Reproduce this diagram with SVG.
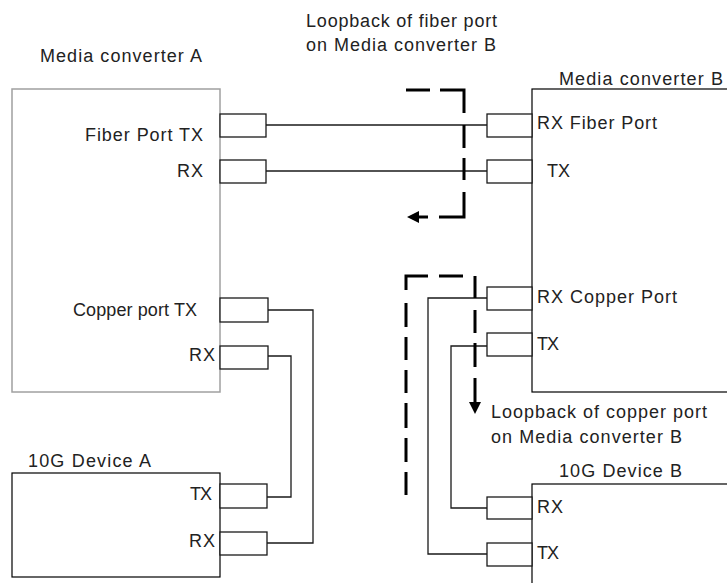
<svg xmlns="http://www.w3.org/2000/svg" width="727" height="583" viewBox="0 0 727 583">
<style>
  text { font-family: "Liberation Sans", Arial, sans-serif; font-size: 18px; fill: #222222; }
  .box { fill: #ffffff; stroke: #000000; stroke-width: 1.2; }
  .gbox { fill: #ffffff; stroke: #a0a0a0; stroke-width: 1.5; }
  .port { fill: #ffffff; stroke: #1a1a1a; stroke-width: 1.3; }
  .wire { fill: none; stroke: #1a1a1a; stroke-width: 1.3; }
  .dash { fill: none; stroke: #000000; stroke-width: 3; stroke-linecap: butt; stroke-linejoin: miter; }
</style>
<defs>
  <marker id="arrow" markerUnits="userSpaceOnUse" markerWidth="13" markerHeight="13" refX="0" refY="6" orient="auto" overflow="visible">
    <path d="M0,0 L12,6 L0,12 Z" fill="#000000"/>
  </marker>
</defs>
<rect width="727" height="583" fill="#ffffff"/>

<g id="media-converter-a">
  <rect class="gbox" x="12" y="89" width="208" height="303"/>
  <text x="40" y="62" textLength="162" lengthAdjust="spacing">Media converter A</text>
  <rect class="port" x="220" y="114" width="46" height="23"/>
  <rect class="port" x="220" y="160" width="46" height="23"/>
  <rect class="port" x="220" y="298" width="48" height="24"/>
  <rect class="port" x="220" y="346" width="48" height="23"/>
  <text x="85" y="141" textLength="118" lengthAdjust="spacing">Fiber Port TX</text>
  <text x="177" y="177" textLength="26" lengthAdjust="spacing">RX</text>
  <text x="73" y="316" textLength="124" lengthAdjust="spacing">Copper port TX</text>
  <text x="189" y="361" textLength="26" lengthAdjust="spacing">RX</text>
</g>

<g id="media-converter-b">
  <rect class="box" x="532" y="89" width="210" height="303"/>
  <text x="559" y="85" textLength="164" lengthAdjust="spacing">Media converter B</text>
  <rect class="port" x="487" y="114" width="45" height="23"/>
  <rect class="port" x="487" y="160" width="45" height="23"/>
  <rect class="port" x="487" y="287" width="45" height="23"/>
  <rect class="port" x="487" y="333" width="45" height="23"/>
  <text x="537" y="129" textLength="120" lengthAdjust="spacing">RX Fiber Port</text>
  <text x="547" y="177" textLength="23" lengthAdjust="spacing">TX</text>
  <text x="537" y="303" textLength="140" lengthAdjust="spacing">RX Copper Port</text>
  <text x="537" y="350" textLength="22" lengthAdjust="spacing">TX</text>
</g>

<g id="device-a">
  <rect class="box" x="12" y="473" width="208" height="104"/>
  <text x="28" y="467" textLength="123" lengthAdjust="spacing">10G Device A</text>
  <rect class="port" x="220" y="484" width="47" height="24"/>
  <rect class="port" x="220" y="532" width="47" height="23"/>
  <text x="190" y="500" textLength="22" lengthAdjust="spacing">TX</text>
  <text x="189" y="547" textLength="26" lengthAdjust="spacing">RX</text>
</g>

<g id="device-b">
  <rect class="box" x="532" y="484" width="210" height="120"/>
  <text x="559" y="477" textLength="123" lengthAdjust="spacing">10G Device B</text>
  <rect class="port" x="487" y="497" width="45" height="22"/>
  <rect class="port" x="487" y="543" width="45" height="23"/>
  <text x="537" y="513" textLength="26" lengthAdjust="spacing">RX</text>
  <text x="537" y="559" textLength="22" lengthAdjust="spacing">TX</text>
</g>

<g id="connectors">
  <path class="wire" d="M266,125 H487"/>
  <path class="wire" d="M266,171 H487"/>
  <path class="wire" d="M268,310 H313 V543 H267"/>
  <path class="wire" d="M268,356 H291 V497 H267"/>
  <path class="wire" d="M487,298 H428 V554 H487"/>
  <path class="wire" d="M487,346 H451 V508 H487"/>
</g>

<g id="loopback-fiber">
  <path class="dash" d="M406,90 H430 M440,90 H464 V113 M464,125 V148 M464,158 V180 M464,192 V217 H439"/>
  <path class="dash" d="M428,217 H419" marker-end="url(#arrow)"/>
  <text x="306" y="27" textLength="191" lengthAdjust="spacing">Loopback of fiber port</text>
  <text x="306" y="51" textLength="190" lengthAdjust="spacing">on Media converter B</text>
</g>

<g id="loopback-copper">
  <path class="dash" d="M406,495 V472 M406,462 V438 M406,428 V403 M406,393 V370 M406,360 V337 M406,327 V303 M406,290 V276 H428 M439,276 H463 M475,276 V298 M475,310 V333 M475,343 V367"/>
  <path class="dash" d="M475,378 V402" marker-end="url(#arrow)"/>
  <text x="491" y="418" textLength="216" lengthAdjust="spacing">Loopback of copper port</text>
  <text x="491" y="443" textLength="191" lengthAdjust="spacing">on Media converter B</text>
</g>
</svg>
